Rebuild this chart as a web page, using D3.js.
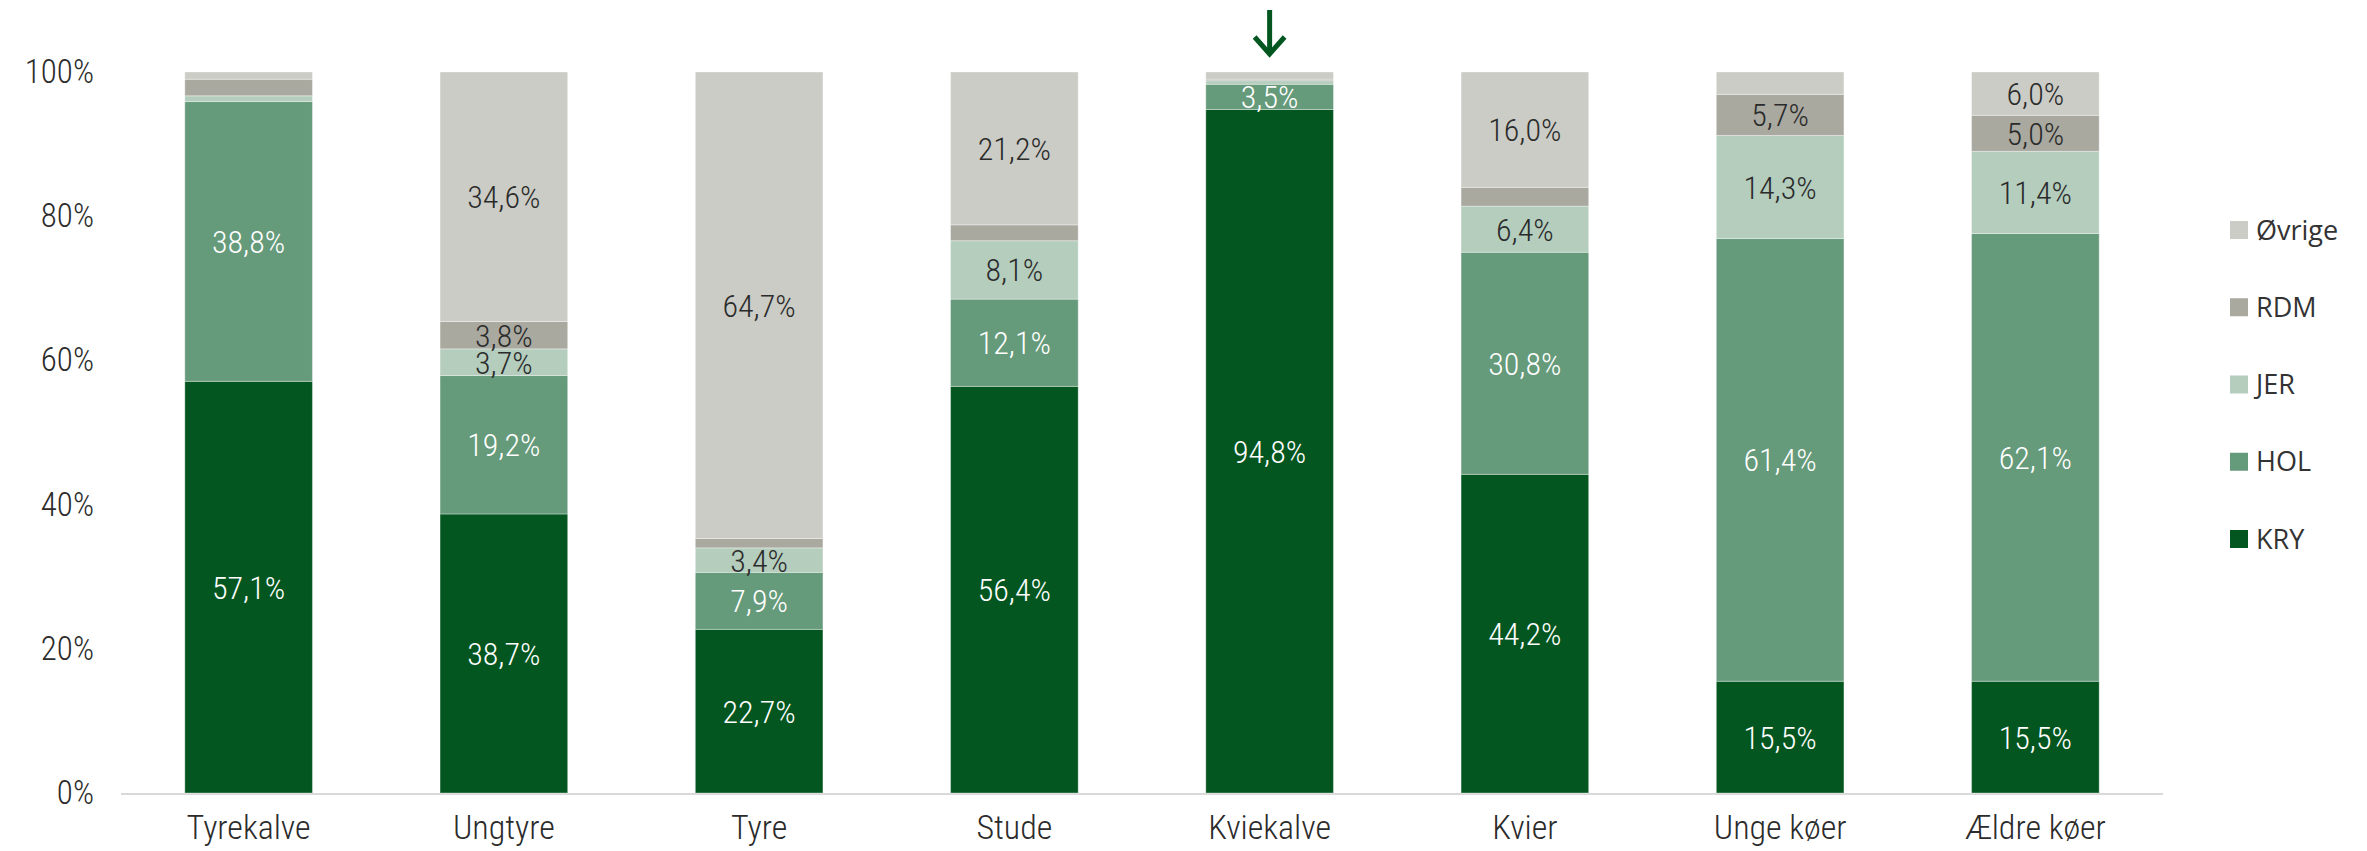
<!DOCTYPE html>
<html>
<head>
<meta charset="utf-8">
<script src="https://cdn.jsdelivr.net/npm/d3@7"></script>
<style>
  html, body { margin: 0; padding: 0; background: #fff; }
  svg { display: block; }
  .num { font-family: "Liberation Sans Narrow", "Roboto", sans-serif; font-weight: 300; font-stretch: condensed; }
</style>
</head>
<body>
<svg id="chart" width="2367" height="851"></svg>
<script>
// ---- data ----
const categories = ["Tyrekalve", "Ungtyre", "Tyre", "Stude", "Kviekalve", "Kvier", "Unge køer", "Ældre køer"];
const seriesNames = ["KRY", "HOL", "JER", "RDM", "Øvrige"];
const KRY    = [57.1, 38.7, 22.7, 56.4, 94.8, 44.2, 15.5, 15.5];
const HOL    = [38.8, 19.2,  7.9, 12.1,  3.5, 30.8, 61.4, 62.1];
const JER    = [ 0.8,  3.7,  3.4,  8.1,  0.5,  6.4, 14.3, 11.4];
const RDM    = [ 2.3,  3.8,  1.3,  2.2,  0.2,  2.6,  5.7,  5.0];
const OVRIGE = [ 1.0, 34.6, 64.7, 21.2,  1.0, 16.0,  3.1,  6.0];
const yTicks = [0, 0.2, 0.4, 0.6, 0.8, 1.0];
const highlighted = "Kviekalve";

const seriesValues = { "KRY": KRY, "HOL": HOL, "JER": JER, "RDM": RDM, "Øvrige": OVRIGE };
const colors = { "KRY": "#03561f", "HOL": "#659a7a", "JER": "#b4cdbd", "RDM": "#a9a9a0", "Øvrige": "#cbccc6" };
const labelColors = { "KRY": "#ffffff", "HOL": "#ffffff", "JER": "#2b2b2b", "RDM": "#2b2b2b", "Øvrige": "#2b2b2b" };

// build table
const table = categories.map((c, i) => {
  const row = { category: c };
  seriesNames.forEach(s => row[s] = seriesValues[s][i] / 100);
  return row;
});

const svg = d3.select("#chart");
const W = 2367, H = 851;
const margin = { left: 121, right: 2367 - 2163, top: 72, bottom: 851 - 793 };

const x = d3.scaleBand().domain(categories).range([margin.left, W - margin.right])
  .paddingInner(0.5).paddingOuter(0.25);
const y = d3.scaleLinear().domain([0, 1]).range([H - margin.bottom, margin.top]);

const stack = d3.stack().keys(seriesNames);
const stacked = stack(table);

const loc = d3.formatLocale({ decimal: ",", thousands: ".", grouping: [3], currency: ["", " kr"] });
const fmt = loc.format(".1f");

// baseline axis
svg.append("line")
  .attr("x1", x.range()[0]).attr("x2", x.range()[1])
  .attr("y1", y(0) + 1).attr("y2", y(0) + 1)
  .attr("stroke", "#d9d9d9").attr("stroke-width", 2);

// bars
const layers = svg.append("g").selectAll("g").data(stacked).join("g")
  .attr("fill", d => colors[d.key]);

layers.selectAll("rect").data(d => d.map(p => ({ p, key: d.key }))).join("rect")
  .attr("x", d => x(d.p.data.category))
  .attr("width", x.bandwidth())
  .attr("y", d => y(d.p[1]))
  .attr("height", d => y(d.p[0]) - y(d.p[1]))
  .attr("stroke", "rgba(255,255,255,0.35)")
  .attr("stroke-width", 1);

// value labels
const labelsG = svg.append("g").attr("class", "num");
stacked.forEach(layer => {
  layer.forEach(p => {
    const v = p[1] - p[0];
    if (v * 100 < 3.3) return;
    labelsG.append("text")
      .attr("x", x(p.data.category) + x.bandwidth() / 2)
      .attr("y", (y(p[0]) + y(p[1])) / 2)
      .attr("dy", "0.36em")
      .attr("text-anchor", "middle")
      .attr("font-size", 32)
      .attr("fill", labelColors[layer.key])
      .text(fmt(v * 100) + "%");
  });
});

// y axis labels
const yAxis = d3.axisLeft(y).tickValues(yTicks).tickSize(0).tickPadding(0)
  .tickFormat(d => Math.round(d * 100) + "%");
const gy = svg.append("g").attr("class", "num").attr("transform", "translate(94,0)").call(yAxis);
gy.select(".domain").remove();
gy.selectAll("text").attr("font-size", 33).attr("fill", "#2b2b2b")
  .attr("font-family", null);

// x axis labels
const xAxis = d3.axisBottom(x).tickSize(0).tickPadding(0);
const gx = svg.append("g").attr("class", "num").attr("transform", `translate(0,${y(0) + 22})`).call(xAxis);
gx.select(".domain").remove();
gx.selectAll("text").attr("font-size", 34).attr("fill", "#2b2b2b")
  .attr("font-family", null);

// arrow above highlighted bar
const ax = x(highlighted) + x.bandwidth() / 2;
const arrow = svg.append("g").attr("stroke", colors["KRY"]).attr("stroke-width", 5)
  .attr("fill", "none").attr("stroke-linecap", "butt");
arrow.append("line").attr("x1", ax).attr("x2", ax).attr("y1", 10).attr("y2", 53);
arrow.append("path").attr("d", `M${ax - 15},${37} L${ax},${54} L${ax + 15},${37}`)
  .attr("stroke-linejoin", "miter");

// legend
const legendOrder = seriesNames.slice().reverse();
const legendY = d3.scalePoint().domain(legendOrder).range([230, 539]);
const lg = svg.append("g").selectAll("g").data(legendOrder).join("g")
  .attr("transform", d => `translate(2230,${legendY(d)})`);
lg.append("rect").attr("x", 0).attr("y", -9).attr("width", 18).attr("height", 18)
  .attr("fill", d => colors[d]);
lg.append("text").attr("x", 26).attr("dy", "0.36em")
  .attr("font-family", "'Open Sans', 'Noto Sans', sans-serif")
  .attr("font-size", 27).attr("fill", "#333333").text(d => d);
</script>
</body>
</html>
